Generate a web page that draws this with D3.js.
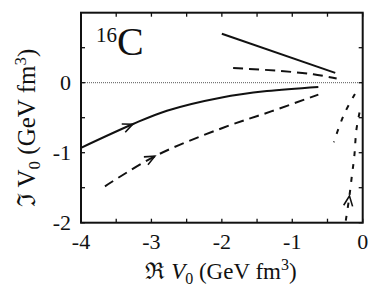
<!DOCTYPE html>
<html>
<head>
<meta charset="utf-8">
<script src="https://cdn.jsdelivr.net/npm/d3@7"></script>
<style>
  body { margin: 0; background: #fff; }
  svg text { font-family: "Liberation Serif", "Times New Roman", serif; }
</style>
</head>
<body>
<script>
// ticks
var xTicks = [-4, -3, -2, -1, 0];
var yTicks = [-2, -1, 0];
var xMinor = [-3.5, -2.5, -1.5, -0.5];
var yMinor = [-1.5, -0.5, 0.5];

// curves (Re V0, Im V0)
var solidUpX = [-2.0, -0.39];
var solidUpY = [0.70, 0.14];
var dashUpX = [-1.84, -1.2, -0.7, -0.37];
var dashUpY = [0.21, 0.17, 0.12, 0.06];
var solidLoX = [-4.0, -3.26, -2.78, -2.0, -1.36, -0.63];
var solidLoY = [-0.93, -0.59, -0.40, -0.21, -0.12, -0.06];
var dashLoX = [-3.66, -2.93, -2.0, -1.3, -0.63];
var dashLoY = [-1.48, -1.04, -0.65, -0.41, -0.17];
var dotAX = [-0.24, -0.19, -0.15, -0.12, -0.09, -0.05, -0.03];
var dotAY = [-1.97, -1.63, -1.30, -1.06, -0.68, -0.45, -0.36];
var dotBX = [-0.11, -0.24, -0.32, -0.41];
var dotBY = [-0.16, -0.40, -0.59, -0.85];

var W = 374, H = 288;
var pLeft = 81, pRight = 362.7, pTop = 12.7, pBottom = 222.7;

var svg = d3.select("body").append("svg")
    .attr("width", W)
    .attr("height", H);

var x = d3.scaleLinear().domain([-4, 0]).range([pLeft, pRight]);
var y = d3.scaleLinear().domain([-2, 1]).range([pBottom, pTop]);

// zero line
svg.append("line")
    .attr("x1", pLeft).attr("x2", pRight)
    .attr("y1", y(0)).attr("y2", y(0))
    .attr("stroke", "#555")
    .attr("stroke-width", 1)
    .attr("stroke-dasharray", "1,1");

function zip(xs, ys) { return xs.map(function (v, i) { return [v, ys[i]]; }); }

var line = d3.line()
    .x(function (d) { return x(d[0]); })
    .y(function (d) { return y(d[1]); })
    .curve(d3.curveCatmullRom);

var curves = [
    { pts: zip(solidUpX, solidUpY), dash: null },
    { pts: zip(dashUpX, dashUpY), dash: "10,6" },
    { pts: zip(solidLoX, solidLoY), dash: null, arrow: 0.23 },
    { pts: zip(dashLoX, dashLoY), dash: "10,6", arrow: 0.25 },
    { pts: zip(dotAX, dotAY), dash: "5,8", arrow: 0.22 },
    { pts: zip(dotBX, dotBY), dash: "5,8" }
];

curves.forEach(function (c) {
    var p = svg.append("path")
        .attr("d", line(c.pts))
        .attr("fill", "none")
        .attr("stroke", "#111")
        .attr("stroke-width", 2)
        .attr("stroke-dasharray", c.dash);
    if (c.arrow !== undefined) {
        var node = p.node();
        var L = node.getTotalLength();
        var a = node.getPointAtLength(L * c.arrow);
        var b = node.getPointAtLength(L * c.arrow + 1);
        var ang = Math.atan2(b.y - a.y, b.x - a.x);
        var len = 11, spread = 0.42;
        var d = "M" + (a.x - len * Math.cos(ang - spread)) + "," + (a.y - len * Math.sin(ang - spread)) +
                "L" + a.x + "," + a.y +
                "L" + (a.x - len * Math.cos(ang + spread)) + "," + (a.y - len * Math.sin(ang + spread));
        svg.append("path")
            .attr("d", d)
            .attr("fill", "none")
            .attr("stroke", "#111")
            .attr("stroke-width", 1.6);
    }
});

// frame
svg.append("rect")
    .attr("x", pLeft).attr("y", pTop)
    .attr("width", pRight - pLeft).attr("height", pBottom - pTop)
    .attr("fill", "none")
    .attr("stroke", "#111")
    .attr("stroke-width", 2);

// inward ticks on all sides
var tl = 4;
xTicks.concat(xMinor).forEach(function (t) {
    svg.append("line").attr("x1", x(t)).attr("x2", x(t)).attr("y1", pBottom).attr("y2", pBottom - tl)
        .attr("stroke", "#111").attr("stroke-width", 1.3);
    svg.append("line").attr("x1", x(t)).attr("x2", x(t)).attr("y1", pTop).attr("y2", pTop + tl)
        .attr("stroke", "#111").attr("stroke-width", 1.3);
});
yTicks.concat(yMinor).forEach(function (t) {
    svg.append("line").attr("x1", pLeft).attr("x2", pLeft + tl).attr("y1", y(t)).attr("y2", y(t))
        .attr("stroke", "#111").attr("stroke-width", 1.3);
    svg.append("line").attr("x1", pRight).attr("x2", pRight - tl).attr("y1", y(t)).attr("y2", y(t))
        .attr("stroke", "#111").attr("stroke-width", 1.3);
});

// tick labels
svg.selectAll(".xl").data(xTicks).enter().append("text")
    .attr("x", function (d) { return x(d); })
    .attr("y", 249)
    .attr("text-anchor", "middle")
    .attr("fill", "#111")
    .attr("font-size", 22)
    .text(function (d) { return d; });

svg.selectAll(".yl").data(yTicks).enter().append("text")
    .attr("x", 71)
    .attr("y", function (d) { return y(d); })
    .attr("dy", "0.35em")
    .attr("text-anchor", "end")
    .attr("fill", "#111")
    .attr("font-size", 22)
    .text(function (d) { return d; });

// axis titles
var xt = svg.append("text")
    .attr("x", 221)
    .attr("y", 279)
    .attr("text-anchor", "middle")
    .attr("fill", "#111")
    .attr("font-size", 23);
xt.append("tspan").text("\u211C ");
xt.append("tspan").attr("font-style", "italic").text("V");
xt.append("tspan").attr("dy", 5).attr("font-size", 16).text("0");
xt.append("tspan").attr("dy", -5).text(" (GeV fm");
xt.append("tspan").attr("dy", -9).attr("font-size", 16).text("3");
xt.append("tspan").attr("dy", 9).text(")");

var yt = svg.append("text")
    .attr("transform", "translate(35,128) rotate(-90)")
    .attr("text-anchor", "middle")
    .attr("fill", "#111")
    .attr("font-size", 25);
yt.append("tspan").text("\u2111 ");
yt.append("tspan").text("V");
yt.append("tspan").attr("dy", 5).attr("font-size", 17).text("0");
yt.append("tspan").attr("dy", -5).text(" (GeV fm");
yt.append("tspan").attr("dy", -9).attr("font-size", 17).text("3");
yt.append("tspan").attr("dy", 9).text(")");

// nucleus label
var nl = svg.append("text")
    .attr("x", 96)
    .attr("y", 55)
    .attr("fill", "#111")
    .attr("font-size", 40);
nl.append("tspan").attr("dy", -13).attr("font-size", 21).text("16");
nl.append("tspan").attr("dy", 13).text("C");
</script>
</body>
</html>
